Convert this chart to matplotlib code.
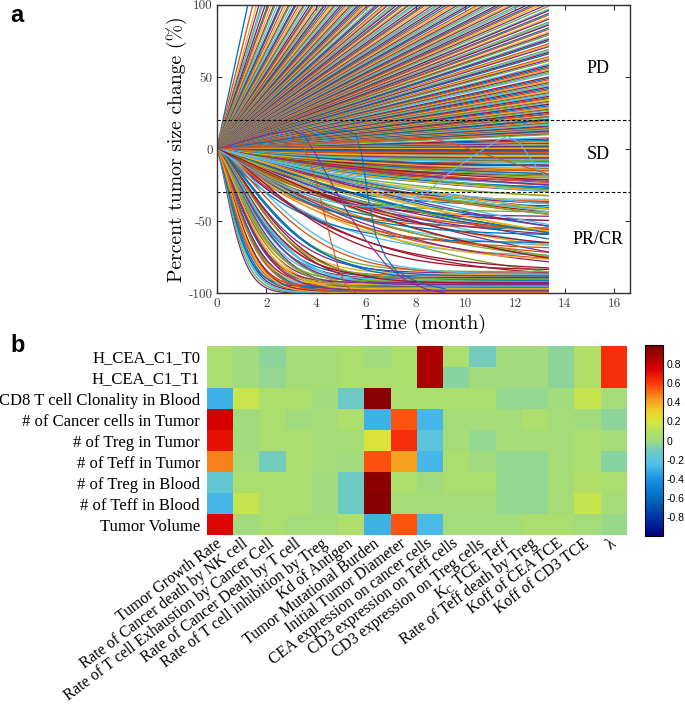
import numpy as np
import matplotlib
matplotlib.use('Agg')
import matplotlib.pyplot as plt
from matplotlib.colors import LinearSegmentedColormap

plt.rcParams['mathtext.fontset'] = 'stix'

# ---- panel a: simulated tumor size trajectories ----
T_END = 13.34  # last simulated month
line_colors = ['#0072BD', '#D95319', '#EDB120', '#7E2F8E', '#77AC30', '#4DBEEE', '#A2142F']

# growing tumors: month at which +100 % is reached
pd_cross = [1.25, 1.45, 1.6, 1.7, 1.8, 1.85, 1.95, 2.05, 2.1, 2.2, 2.3, 2.35, 2.45, 2.55, 2.6,
            2.7, 2.8, 2.9, 2.95, 3.05, 3.15, 3.2, 3.3, 3.4, 3.5, 3.55, 3.65, 3.75, 3.85, 3.9,
            4.0, 4.1, 4.2, 4.3, 4.35, 4.45, 4.55, 4.65, 4.75, 4.8, 4.9, 5.0, 5.1, 5.2, 5.3,
            5.4, 5.5, 5.6, 5.7, 5.8, 5.9, 6.0, 6.1, 6.2, 6.35, 6.45, 6.55, 6.7, 6.8, 6.9,
            7.05, 7.15, 7.25, 7.4, 7.5, 7.65, 7.75, 7.9, 8.0, 8.15, 8.3, 8.4, 8.55, 8.7, 8.85,
            8.95, 9.1, 9.25, 9.4, 9.55, 9.7, 9.85, 10.0, 10.15, 10.3, 10.5, 10.65, 10.8, 10.95,
            11.1, 11.3, 11.45, 11.6, 11.8, 11.95, 12.15, 12.3, 12.5, 12.7, 12.85, 13.05, 13.25]
# growing tumors: percent change at the last month (below +100 %)
pd_end = [99, 97, 96, 94, 93, 91, 90, 88, 87, 86, 84, 83, 81, 80, 79, 77, 76, 75, 73, 72,
          71, 69, 68, 67, 66, 64, 63, 62, 61, 59, 58, 57, 56, 55, 54, 53, 52, 50, 49, 48,
          47, 46, 45, 44, 43, 42, 41, 40, 39, 38.5, 37.5, 36.5, 35.5, 35, 34, 33, 32.5, 31.5,
          31, 30, 29, 28.5, 27.5, 27, 26, 25.5, 24.5, 24, 23, 22.5, 22, 21, 20.5, 20, 19,
          18.5, 18, 17.5, 17, 16, 15.5, 15, 14.5, 14, 13.5, 13, 12.5, 12, 11.5, 11, 10.5,
          10, 8, 7, 6, 5, 4.5, 4, 3, 2.5, 2, 1.5, 1, 0.5]

# stable disease: plateau depth (%) and time constant (month)
sd_depth = [1, 2, 3, 3.5, 4, 5, 5.5, 6, 7, 7.5, 8, 9, 9.5, 10, 11, 12, 12.5, 13, 14, 15,
            16, 17, 18, 19, 20, 21, 22, 23, 25, 26, 28, 30, 32, 34, 36, 38, 40, 42,
            0.5, 1.5, 2.5, 4.5, 6.5, 8.5, 10.5, 11.5, 13.5, 15.5, 17.5, 19.5, 24, 27, 29,
            31, 33, 35, 37, 44]
sd_tau = [2, 3, 1.5, 4, 2.5, 3, 5, 2, 3.5, 6, 2.5, 4, 1.8, 5, 3, 4.5, 2.2, 6, 3.5, 5,
          4, 7, 3, 6, 5, 8, 4, 7, 6, 9, 5, 8, 7, 10, 6, 9, 8, 11,
          1, 2.5, 2, 3, 4, 5, 6, 3, 7, 4, 8, 5, 9, 6, 10, 7, 11, 8, 12, 13]

# slower partial responders
mod_depth = [35, 38, 40, 42, 45, 47, 50, 52, 55, 57, 60, 62, 65, 67, 70, 72, 75, 78, 80, 83,
             85, 88, 90, 92, 95, 100, 100, 97, 75, 85, 65, 55,
             36, 41, 44, 48, 51, 54, 58, 61, 64, 68, 71, 74, 77, 81, 84, 87, 91, 94, 98, 60, 70, 80]
mod_tau = [3, 5, 4, 7, 6, 3.5, 8, 5, 9, 4, 10, 6, 7, 12, 5, 9, 11, 6, 8, 13,
           7, 10, 5, 12, 9, 15, 11, 7, 4, 4.5, 3, 3.2,
           4, 6, 3.5, 9, 4.5, 10, 5, 12, 6, 8, 14, 7, 10, 5.5, 12, 6.5, 8.5, 16, 9.5, 3.8, 4.2, 5]

# fast, deep responders
fast_depth = [100, 99.5, 99, 98.5, 98, 97.5, 97, 96.5, 96, 95.5, 95, 94.5, 94, 93.5, 93, 92,
              91, 90, 89, 88, 87, 86, 85, 99.8, 99.2, 98.8, 98.2, 97.8, 97.2, 96.8, 96.2, 95.8,
              95.2, 94.8, 93.8, 92.5, 91.5, 90.5, 89.5, 88, 86.5, 99.5, 98, 96.5, 95, 93, 91,
              99, 97, 94, 90, 87, 84]
fast_tau = [0.85, 0.9, 0.95, 1.0, 1.05, 1.1, 1.15, 1.2, 1.3, 1.35, 1.4, 1.5, 1.55, 1.6, 1.7, 1.8,
            1.9, 2.0, 2.1, 2.2, 2.4, 2.6, 2.8, 1.0, 1.25, 1.45, 1.65, 1.85, 2.05, 2.25, 2.45, 2.7,
            0.95, 1.1, 1.3, 1.5, 1.75, 2.0, 2.3, 2.9, 3.3, 1.2, 1.6, 1.95, 2.35, 2.75, 3.1,
            1.4, 1.7, 2.15, 2.5, 3.6, 4.2]

# a few delayed / regrowing trajectories
late_curves = [
    ([0, 1, 2, 3, 3.5, 4.0, 4.6, 5.3, 6.0, 6.8, 7.6, 8.4, 9.2],
     [0, 5, 10, 13, 10, -4, -23, -45, -63, -80, -91, -97, -100], '#7E2F8E'),
    ([0, 1, 2, 2.8, 3.2, 3.6, 4.0, 4.3, 4.6, 4.9, 5.2, 5.6],
     [0, 3, 6, 8, 6, -2, -22, -43, -64, -83, -95, -100], '#D95319'),
    ([0, 2, 4, 5.2, 5.6, 5.85, 6.1, 6.4, 6.8, 7.2, 7.8, 8.4, 9.2],
     [0, 5, 10, 13, 10, -5, -35, -60, -75, -84, -90, -94, -97], '#0072BD'),
    ([0, 1, 2, 3, 4, 5, 6, 7, 7.8, 8.6, 9.4, 10.3, 11.2, 11.7, 12.2, 12.85, 13.3],
     [0, -10, -20, -28, -34, -38, -40, -40, -37, -28, -16, -5, 5, 9, 4, -12, -20], '#4DBEEE'),
    ([0, 3, 6, 8.5, 9.3, 10.5, 11.6, 12.7, 13.3],
     [0, 3, 6, 7.5, 5, -2, -8, -14, -17], '#D95319'),
]

# ---- panel b: correlation heatmap ----
row_labels = ['H_CEA_C1_T0', 'H_CEA_C1_T1', 'CD8 T cell Clonality in Blood',
              '# of Cancer cells in Tumor', '# of Treg in Tumor', '# of Teff in Tumor',
              '# of Treg in Blood', '# of Teff in Blood', 'Tumor Volume']
col_labels = ['Tumor Growth Rate', 'Rate of Cancer death by NK cell',
              'Rate of T cell Exhaustion by Cancer Cell', 'Rate of Cancer Death by T cell',
              'Rate of T cell inhibition by Treg', 'Kd of Antigen', 'Tumor Mutational Burden',
              'Initial Tumor Diameter', 'CEA expression on cancer cells',
              'CD3 expression on Teff cells', 'CD3 expression on Treg cells',
              r'K$_\mathregular{C}$ TCE  Teff',
              'Rate of Teff death by Treg', 'Koff of CEA TCE', 'Koff of CD3 TCE', 'λ']
row_h_cea_t0 = [0.05, 0.0, -0.04, 0.03, 0.03, 0.06, 0.0, 0.06, 0.86, 0.05, -0.1, 0.0, 0.0, -0.04, 0.08, 0.63]
row_h_cea_t1 = [0.05, 0.0, -0.03, 0.03, 0.03, 0.05, 0.05, 0.06, 0.86, -0.05, 0.0, 0.0, 0.0, -0.04, 0.08, 0.63]
row_cd8_clon = [-0.3, 0.16, 0.07, 0.07, 0.0, -0.13, 0.97, 0.05, 0.05, 0.05, 0.05, -0.03, -0.03, 0.0, 0.15, 0.03]
row_cancer_t = [0.76, 0.0, 0.05, 0.0, 0.03, 0.07, -0.3, 0.55, -0.28, 0.03, 0.03, 0.03, 0.07, 0.03, 0.0, -0.04]
row_treg_t = [0.7, 0.0, 0.05, 0.05, 0.03, 0.03, 0.22, 0.63, -0.2, 0.03, -0.03, 0.03, 0.03, 0.03, 0.05, 0.03]
row_teff_t = [0.47, 0.03, -0.1, 0.05, 0.03, 0.0, 0.56, 0.41, -0.28, 0.05, 0.0, -0.03, -0.03, 0.03, 0.05, -0.05]
row_treg_b = [-0.17, 0.05, 0.05, 0.05, 0.0, -0.12, 0.95, 0.07, 0.0, 0.05, 0.05, -0.03, -0.03, 0.03, 0.08, 0.05]
row_teff_b = [-0.28, 0.15, 0.05, 0.05, 0.0, -0.12, 0.97, 0.03, 0.03, 0.03, 0.03, -0.03, -0.03, 0.03, 0.15, 0.03]
row_volume = [0.73, 0.0, 0.05, 0.02, 0.02, 0.07, -0.3, 0.55, -0.27, 0.02, 0.02, 0.02, 0.05, 0.05, 0.02, -0.02]
heat = np.array([row_h_cea_t0, row_h_cea_t1, row_cd8_clon, row_cancer_t, row_treg_t,
                 row_teff_t, row_treg_b, row_teff_b, row_volume])

cmap = LinearSegmentedColormap.from_list('corr', [
    (0.0, (0.0, 0.0, 0.5)), (0.2, (0.0, 0.42, 0.76)), (0.3, (0.1, 0.58, 0.87)),
    (0.375, (0.32, 0.75, 0.92)), (0.45, (0.45, 0.8, 0.74)), (0.5, (0.63, 0.86, 0.5)),
    (0.55, (0.71, 0.88, 0.38)), (0.6, (0.84, 0.91, 0.24)), (0.65, (0.93, 0.82, 0.16)),
    (0.7, (0.96, 0.66, 0.14)), (0.75, (0.98, 0.45, 0.08)), (0.8, (1.0, 0.22, 0.04)),
    (0.875, (0.86, 0.0, 0.0)), (0.95, (0.62, 0.0, 0.0)), (1.0, (0.5, 0.0, 0.0))])

fig = plt.figure(figsize=(6.85, 7.06), dpi=100)

ax1 = fig.add_axes([0.3164, 0.5846, 0.6034, 0.4084])
t = np.linspace(0, T_END, 160)
lw = 0.95
k = 0
for tc in pd_cross:
    ax1.plot([0, tc], [0, 100], color=line_colors[k % 7], lw=lw)
    k += 1
for e in pd_end:
    ax1.plot([0, T_END], [0, e], color=line_colors[k % 7], lw=lw)
    k += 1
for a, tau in zip(sd_depth, sd_tau):
    ax1.plot(t, -a * (1 - np.exp(-t / tau)), color=line_colors[k % 7], lw=lw)
    k += 1
for a, tau in zip(mod_depth, mod_tau):
    ax1.plot(t, -a * (1 - np.exp(-(t / tau) ** 1.15)), color=line_colors[k % 7], lw=lw)
    k += 1
for a, tau in zip(fast_depth, fast_tau):
    ax1.plot(t, -a * (1 - np.exp(-(t / tau) ** 1.4)), color=line_colors[k % 7], lw=lw)
    k += 1
for tt, vv, c in late_curves:
    ax1.plot(tt, vv, color=c, lw=0.8)

ax1.axhline(20, color='k', ls=(0, (3, 2)), lw=0.8)
ax1.axhline(-30, color='k', ls=(0, (3, 2)), lw=0.8)
ax1.set_xlim(0, 16.63)
ax1.set_ylim(-100, 100)
ax1.set_xticks(range(0, 17, 2))
ax1.set_xticklabels([str(v) for v in range(0, 17, 2)], family='cmr10', fontsize=9.5, color='0.25')
ax1.set_yticks([-100, -50, 0, 50, 100])
ax1.set_yticklabels(['-100', '-50', '0', '50', '100'], family='cmr10', fontsize=9.5, color='0.25')
ax1.tick_params(direction='in', length=3.5, width=0.8, top=True, right=True, pad=3, color='0.2')
for s in ax1.spines.values():
    s.set_linewidth(1.0)
    s.set_color('0.2')
ax1.set_ylabel('Percent tumor size change (%)', family='cmr10', fontsize=14.2)
ax1.yaxis.set_label_coords(-0.072, 0.5)
ax1.set_xlabel('Time (month)', family='cmr10', fontsize=14.5, va='top')
ax1.xaxis.set_label_coords(0.5, -0.07)
for txt, yv in [('PD', 56), ('SD', -4), ('PR/CR', -63)]:
    ax1.text(15.35, yv, txt, family='Liberation Serif', fontsize=13, ha='center', va='center')

ax2 = fig.add_axes([0.3022, 0.2422, 0.6131, 0.2677])
im = ax2.imshow(heat, cmap=cmap, vmin=-1, vmax=1, aspect='auto', interpolation='nearest')
ax2.set_yticks(range(len(row_labels)))
ax2.set_yticklabels(row_labels, family='Liberation Serif', fontsize=12)
ax2.set_xticks(range(len(col_labels)))
ax2.set_xticklabels(col_labels, family='Liberation Serif', fontsize=11.3, rotation=37,
                    ha='right', va='center', rotation_mode='anchor')
ax2.tick_params(length=0, pad=5)
for s in ax2.spines.values():
    s.set_visible(False)

cax = fig.add_axes([0.9416, 0.2408, 0.0263, 0.2705])
cb = fig.colorbar(im, cax=cax, ticks=[-0.8, -0.6, -0.4, -0.2, 0, 0.2, 0.4, 0.6, 0.8])
cb.ax.set_yticklabels(['-0.8', '-0.6', '-0.4', '-0.2', '0', '0.2', '0.4', '0.6', '0.8'],
                      family='Liberation Sans', fontsize=7.5)
cb.ax.tick_params(length=0, pad=2.5)
cb.outline.set_linewidth(0.8)

fig.text(10 / 685, 1 - 15 / 706, 'a', family='Liberation Sans', fontweight='bold', fontsize=17, va='center')
fig.text(10 / 685, 1 - 345 / 706, 'b', family='Liberation Sans', fontweight='bold', fontsize=17, va='center')

fig.savefig('out.png', dpi=100)
